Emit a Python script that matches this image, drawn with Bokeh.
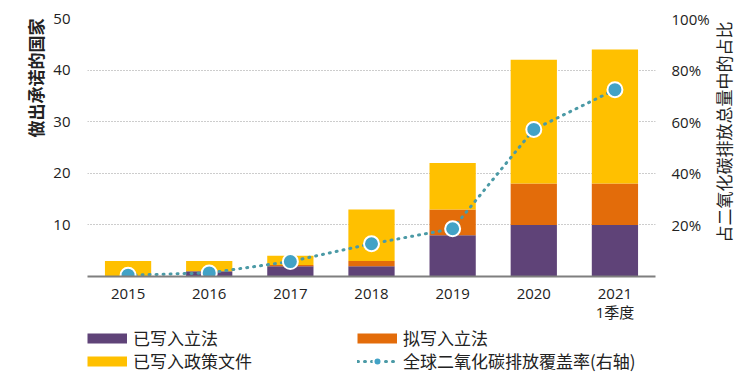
import math
from bokeh.plotting import figure
from bokeh.layouts import column
from bokeh.models import (Range1d, LinearAxis, FixedTicker, NumeralTickFormatter,
                          ColumnDataSource, Legend, LegendItem, Title)
from bokeh.embed import file_html
from bokeh.resources import INLINE

# ---- data ----
years = ["2015", "2016", "2017", "2018", "2019", "2020", "2021"]
year_sub = {"2021": "1季度"}
legislated = [0, 1, 2, 2, 8, 10, 10]          # 已写入立法
proposed = [0, 0, 0.25, 1, 5, 8, 8]           # 拟写入立法
policy = [3, 2, 1.75, 10, 9, 24, 26]          # 已写入政策文件
coverage = [0.005, 0.014, 0.058, 0.127, 0.185, 0.57, 0.724]  # 全球二氧化碳排放覆盖率
left_ticks = [10, 20, 30, 40, 50]
right_ticks = [0.2, 0.4, 0.6, 0.8, 1.0]

series_names = ["已写入立法", "拟写入立法", "已写入政策文件"]
line_name = "全球二氧化碳排放覆盖率(右轴)"
left_title = "做出承诺的国家"
right_title = "占二氧化碳排放总量中的占比"

PURPLE = "#5f4378"
ORANGE = "#e36c0a"
YELLOW = "#ffc000"
TEAL_LINE = "#4b9aa6"
TEAL_DOT = "#42a2c6"
NUM_FONT = "Open Sans, Noto Sans CJK SC"
CJK_FONT = "Noto Sans CJK SC"
TXT = "#222222"

xpos = list(range(len(years)))
src = ColumnDataSource(dict(x=xpos, leg=legislated, prop=proposed, pol=policy, cov=coverage))

p = figure(frame_width=568, frame_height=258, x_range=Range1d(-0.5, len(years) - 0.5),
           y_range=Range1d(0, 50), output_backend="svg", toolbar_location=None,
           min_border_left=87, min_border_right=85, min_border_top=18, min_border_bottom=10)
p.outline_line_color = None
p.background_fill_color = "white"
p.border_fill_color = "white"
p.extra_y_ranges = {"pct": Range1d(0, 1)}

# grid
p.xgrid.grid_line_color = None
p.ygrid.ticker = FixedTicker(ticks=left_ticks)
p.ygrid.grid_line_color = "#9a9a9a"
p.ygrid.grid_line_dash = "1 2"
p.ygrid.grid_line_width = 1

# bars
p.vbar_stack(["leg", "prop", "pol"], x="x", width=0.57, source=src,
             color=[PURPLE, ORANGE, YELLOW], line_width=0)

# coverage line
LINE_STYLE = dict(line_color=TEAL_LINE, line_width=3, line_dash="1 6", line_cap="round")
DOT_STYLE = dict(fill_color=TEAL_DOT, line_color="white", line_width=2)
p.line(x="x", y="cov", source=src, y_range_name="pct", **LINE_STYLE)
p.scatter(x="x", y="cov", source=src, y_range_name="pct", size=15, **DOT_STYLE)


def style_axis(ax, standoff):
    ax.axis_line_color = None
    ax.major_tick_line_color = None
    ax.minor_tick_line_color = None
    ax.major_tick_out = 0
    ax.major_tick_in = 0
    ax.minor_tick_out = 0
    ax.minor_tick_in = 0
    ax.major_label_standoff = standoff
    ax.major_label_text_font = NUM_FONT
    ax.major_label_text_font_size = "15px"
    ax.major_label_text_color = TXT


# x axis (years)
xa = p.xaxis[0]
style_axis(xa, 12)
xa.ticker = FixedTicker(ticks=xpos)
xa.major_label_overrides = {i: y for i, y in zip(xpos, years)}
xa.axis_line_color = "#7f7f7f"
xa.axis_line_width = 2

# second line of x labels ("1季度")
sub_ticks = [i for i, y in zip(xpos, years) if y in year_sub]
xa2 = LinearAxis(ticker=FixedTicker(ticks=sub_ticks),
                 major_label_overrides={i: year_sub[years[i]] for i in sub_ticks})
style_axis(xa2, 0)
p.add_layout(xa2, "below")

# left axis + title (top-aligned)
ya = p.yaxis[0]
style_axis(ya, 17)
ya.ticker = FixedTicker(ticks=left_ticks)
p.add_layout(Title(text=left_title, align="right", text_font=CJK_FONT, text_font_size="17px",
                   text_font_style="bold", text_color=TXT, standoff=6), "left")

# right axis, title reads bottom-to-top starting near the bottom of the axis
ra = LinearAxis(y_range_name="pct", ticker=FixedTicker(ticks=right_ticks),
                formatter=NumeralTickFormatter(format="0%"))
style_axis(ra, 16)
ra.axis_label = "\u3000\u3000" + right_title
ra.axis_label_standoff = 11
ra.axis_label_orientation = math.pi / 2
ra.axis_label_align = "start"
ra.axis_label_text_font = CJK_FONT
ra.axis_label_text_font_size = "17px"
ra.axis_label_text_font_style = "normal"
ra.axis_label_text_color = TXT
p.add_layout(ra, "right")

# ---- legend strip (separate figure under the chart) ----
lg = figure(width=740, height=49, x_range=Range1d(0, 1), y_range=Range1d(0, 1),
            output_backend="svg", toolbar_location=None, x_axis_type=None, y_axis_type=None,
            min_border=0)
lg.outline_line_color = None
lg.grid.visible = False
lg.border_fill_color = "white"
proxy = [lg.line(x=[-9, -8], y=[-9, -9], line_color=c, line_width=10)
         for c in (PURPLE, ORANGE, YELLOW)]
proxy_line = lg.line(x=[-9, -8], y=[-9, -9], **LINE_STYLE)
proxy_dot = lg.scatter(x=[-9], y=[-9], size=15, **DOT_STYLE)


def make_legend(items, loc):
    return Legend(items=items, location=loc, orientation="horizontal", glyph_width=40,
                  glyph_height=20, label_standoff=6, label_width=224, label_height=20,
                  spacing=0, padding=0, margin=0, background_fill_alpha=0,
                  border_line_color=None, label_text_font=CJK_FONT,
                  label_text_font_size="17px", label_text_color=TXT)


lg.add_layout(make_legend([LegendItem(label=series_names[0], renderers=[proxy[0]]),
                           LegendItem(label=series_names[1], renderers=[proxy[1]])], (0, 23)))
lg.add_layout(make_legend([LegendItem(label=series_names[2], renderers=[proxy[2]]),
                           LegendItem(label=line_name, renderers=[proxy_line, proxy_dot])], (0, 0)))

page = column(p, lg, spacing=0)
open("out.html", "w").write(file_html(page, INLINE))
